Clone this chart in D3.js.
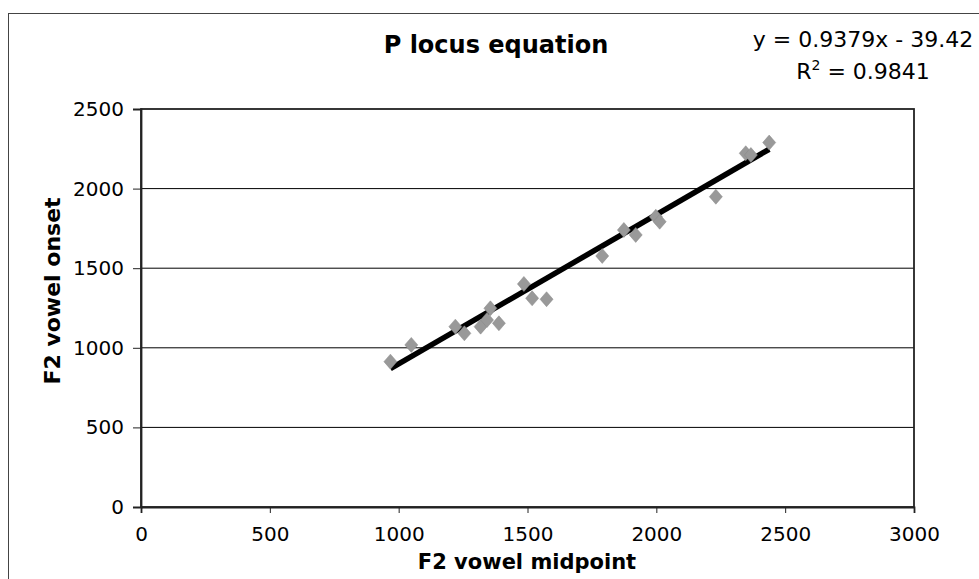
<!DOCTYPE html>
<html><head><meta charset="utf-8">
<script src="https://cdn.jsdelivr.net/npm/d3@7"></script>
<style>
html,body{margin:0;padding:0;background:#fff;}
svg{display:block;}
text{font-family:"DejaVu Sans",Verdana,sans-serif;fill:#000;}
</style></head>
<body>
<svg id="c" width="979" height="579"></svg>
<script>
const f2Midpoint = [968, 1049, 1220, 1255, 1318, 1343, 1356, 1389, 1486, 1518, 1574, 1790, 1874, 1920, 1998, 2013, 2231, 2347, 2367, 2438];
const f2Onset    = [913, 1018, 1133, 1091, 1133, 1175, 1248, 1154, 1401, 1311, 1305, 1577, 1740, 1709, 1823, 1792, 1949, 2222, 2211, 2289];
const xTicks = [0, 500, 1000, 1500, 2000, 2500, 3000];
const yTicks = [0, 500, 1000, 1500, 2000, 2500];
const trendSlope = 0.9379, trendIntercept = -39.42;
const chartTitle = "P locus equation";
const xTitle = "F2 vowel midpoint";
const yTitle = "F2 vowel onset";
const eqLine1 = "y = 0.9379x - 39.42";
const eqR2 = "0.9841";

const svg = d3.select("#c");
const L = 141, R = 914, T = 109, B = 507;
const x = d3.scaleLinear().domain([0, 3000]).range([L, R]);
const y = d3.scaleLinear().domain([0, 2500]).range([B, T]);

// outer chart frame
svg.append("rect").attr("x", 8.5).attr("y", 13.5).attr("width", 1000).attr("height", 600)
  .attr("fill", "none").attr("stroke", "#444").attr("stroke-width", 1);

// gridlines
svg.append("g").selectAll("line").data(yTicks.filter(d => d > 0 && d < 2500)).join("line")
  .attr("x1", L).attr("x2", R).attr("y1", d => y(d)).attr("y2", d => y(d))
  .attr("stroke", "#000").attr("stroke-width", 1);

// plot border
svg.append("rect").attr("x", L).attr("y", T).attr("width", R - L).attr("height", B - T)
  .attr("fill", "none").attr("stroke", "#222").attr("stroke-width", 1.8);

// axes
const xAxis = d3.axisBottom(x).tickValues(xTicks).tickSize(6).tickPadding(14).tickFormat(d3.format("d"));
const gx = svg.append("g").attr("transform", `translate(0,${B})`).call(xAxis);
const yAxis = d3.axisLeft(y).tickValues(yTicks).tickSize(8).tickPadding(9).tickFormat(d3.format("d"));
const gy = svg.append("g").attr("transform", `translate(${L},0)`).call(yAxis);
[gx, gy].forEach(g => {
  g.select(".domain").attr("stroke", "#222").attr("stroke-width", 1.8);
  g.selectAll(".tick line").attr("stroke", "#222");
  g.selectAll(".tick text").attr("font-family", "'DejaVu Sans',Verdana,sans-serif").attr("font-size", 20).attr("fill", "#000");
});

// trendline
const xs = d3.extent(f2Midpoint);
svg.append("line")
  .attr("x1", x(xs[0])).attr("y1", y(trendSlope * xs[0] + trendIntercept))
  .attr("x2", x(xs[1])).attr("y2", y(trendSlope * xs[1] + trendIntercept))
  .attr("stroke", "#000").attr("stroke-width", 5.5);

// points (diamonds)
const pts = f2Midpoint.map((d, i) => [d, f2Onset[i]]);
svg.append("g").selectAll("path").data(pts).join("path")
  .attr("transform", d => `translate(${x(d[0])},${y(d[1])})`)
  .attr("d", "M0,-7.5L6.5,0L0,7.5L-6.5,0Z")
  .attr("fill", "#999").attr("stroke", "#888").attr("stroke-width", 0.5);

// titles
svg.append("text").attr("x", 496).attr("y", 53).attr("text-anchor", "middle")
  .attr("font-size", 24).attr("font-weight", "bold").text(chartTitle);
svg.append("text").attr("x", 527).attr("y", 569).attr("text-anchor", "middle")
  .attr("font-size", 21).attr("font-weight", "bold").text(xTitle);
svg.append("text").attr("transform", `translate(60,291) rotate(-90)`).attr("text-anchor", "middle")
  .attr("font-size", 22).attr("font-weight", "bold").text(yTitle);

// equation
svg.append("text").attr("x", 863).attr("y", 47).attr("text-anchor", "middle")
  .attr("font-size", 22).text(eqLine1);
const r2 = svg.append("text").attr("x", 863).attr("y", 79).attr("text-anchor", "middle").attr("font-size", 22);
r2.append("tspan").text("R");
r2.append("tspan").attr("dy", -9).attr("font-size", 14).text("2");
r2.append("tspan").attr("dy", 9).text(" = " + eqR2);
</script>
</body></html>
